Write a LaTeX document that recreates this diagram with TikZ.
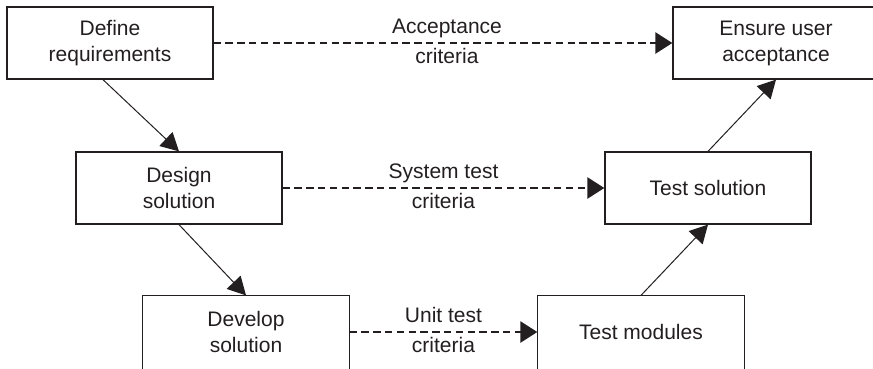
\documentclass[tikz,border=0pt]{standalone}
\usepackage{fontspec}
\setmainfont{Liberation Sans}
\usetikzlibrary{arrows.meta}
\definecolor{ink}{HTML}{231F20}
\begin{document}
\begin{tikzpicture}[x=1pt,y=-1pt,
  stagebox/.style={draw=ink, line width=1.3pt, minimum width=206pt, minimum height=72pt,
    inner sep=0pt, align=center, text=ink, font=\fontsize{21}{26}\selectfont},
  openbox/.style={stagebox, draw=none},
  solidarrow/.style={draw=ink, line width=1pt, -{Triangle[length=18pt,width=19pt]}},
  dasharrow/.style={draw=ink, line width=2.6pt, dash pattern=on 7.3pt off 4.5pt,
    -{Triangle[length=17pt,width=21pt]}},
  labup/.style={anchor=base, yshift=10pt, text=ink, font=\fontsize{21}{26}\selectfont, inner sep=0pt},
  labdown/.style={anchor=base, yshift=-20pt, text=ink, font=\fontsize{21}{26}\selectfont, inner sep=0pt}]
\useasboundingbox (0,0) rectangle (873,368);
\fill[white] (0,0) rectangle (873,368);
\node[stagebox] (def)  at (110,43)  {Define\\requirements};
\node[stagebox] (ens)  at (776,43)  {Ensure user\\acceptance};
\node[stagebox] (des)  at (179,188) {Design\\solution};
\node[stagebox] (tsol) at (708,188) {Test solution};
\node[openbox] (dev)  at (246,332) {Develop\\solution};
\node[openbox] (tmod) at (641,332) {Test modules};
\draw[ink, line width=1.3pt] ([yshift=-6pt]dev.south west) -- (dev.north west) -- (dev.north east) -- ([yshift=-6pt]dev.south east);
\draw[ink, line width=1.3pt] ([yshift=-6pt]tmod.south west) -- (tmod.north west) -- (tmod.north east) -- ([yshift=-6pt]tmod.south east);
\draw[solidarrow] ([xshift=-7pt]def.south) -- (des.north);
\draw[solidarrow] (des.south) -- (dev.north);
\draw[solidarrow] (tmod.north) -- (tsol.south);
\draw[solidarrow] (tsol.north) -- (ens.south);
\draw[dasharrow] (def.east) -- node[labup, xshift=4pt]{Acceptance} node[labdown, xshift=4pt]{criteria} (ens.west);
\draw[dasharrow] (des.east) -- node[labup]{System test} node[labdown]{criteria} (tsol.west);
\draw[dasharrow] (dev.east) -- node[labup]{Unit test} node[labdown]{criteria} (tmod.west);
\end{tikzpicture}
\end{document}
